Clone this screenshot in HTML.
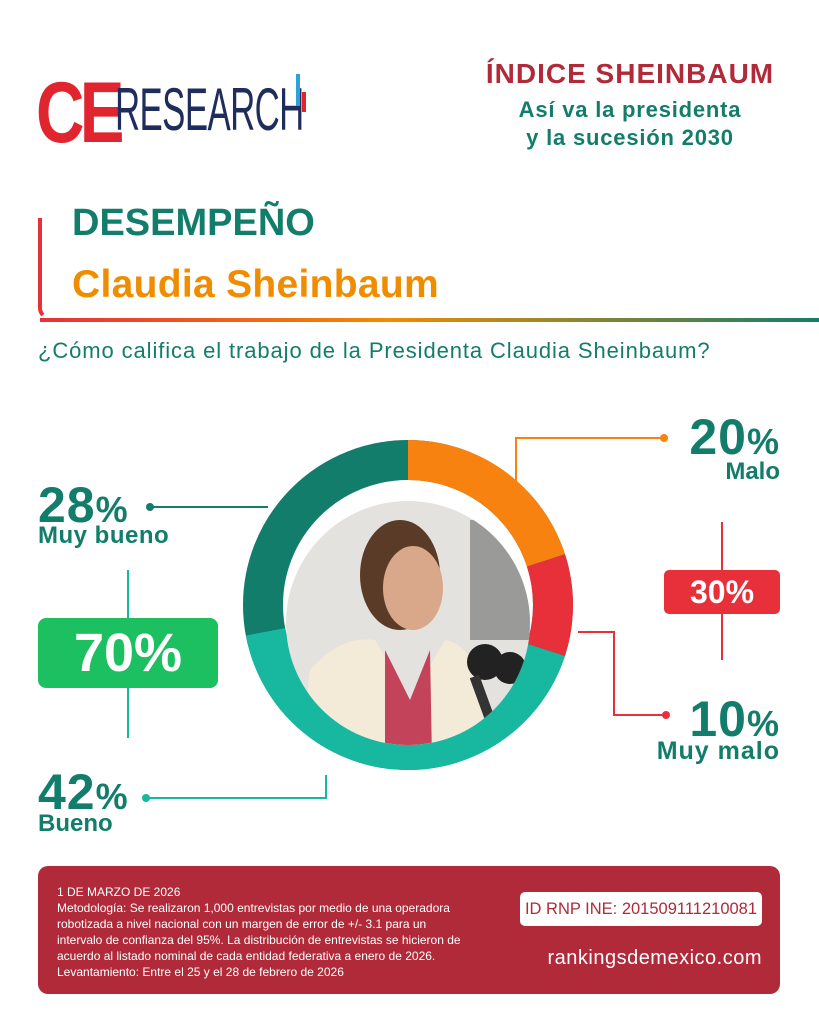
<!DOCTYPE html>
<html><head><meta charset="utf-8"><style>
body{margin:0;width:819px;height:1024px;background:#fff;position:relative;overflow:hidden;font-family:"Liberation Sans",sans-serif}
.a{position:absolute;white-space:nowrap}
</style></head><body>
<div class="a" style="left:36px;top:70px;font-size:86px;font-weight:bold;color:#e0252f;letter-spacing:-6px;transform:scaleX(0.78);transform-origin:left top;line-height:86px">CE</div>
<div class="a" style="left:115px;top:80px;font-size:60px;color:#1f2d5c;transform:scaleX(0.58);transform-origin:left top;line-height:60px;letter-spacing:-1px">RESEARCH</div>
<div class="a" style="left:296px;top:74px;width:4px;height:32px;background:#2aa3dc"></div>
<div class="a" style="left:302px;top:92px;width:4px;height:20px;background:#e0252f"></div>
<div class="a" style="left:470px;top:58px;width:320px;text-align:center;font-size:28px;font-weight:bold;letter-spacing:1px;color:#b02a3a">ÍNDICE SHEINBAUM</div>
<div class="a" style="left:470px;top:96px;width:320px;text-align:center;font-size:22px;font-weight:bold;letter-spacing:0.8px;color:#137d6b;line-height:28px">Así va la presidenta<br>y la sucesión 2030</div>
<div class="a" style="left:38px;top:218px;width:20px;height:102px;border-left:4px solid #e8303a;border-bottom:4px solid transparent;border-bottom-left-radius:12px;box-sizing:border-box"></div>
<div class="a" style="left:40px;top:318px;width:779px;height:4px;background:linear-gradient(90deg,#e8303a,#f08c00 45%,#137d6b)"></div>
<div class="a" style="left:72px;top:202px;font-size:38px;font-weight:bold;color:#137d6b">DESEMPEÑO</div>
<div class="a" style="left:72px;top:263px;font-size:39px;font-weight:bold;letter-spacing:0.3px;color:#f08c00">Claudia Sheinbaum</div>
<div class="a" style="left:38px;top:338px;font-size:22px;letter-spacing:0.9px;color:#137d6b">¿Cómo califica el trabajo de la Presidenta Claudia Sheinbaum?</div>
<svg class="a" style="left:0;top:0" width="819" height="1024">
<g fill="none" stroke-width="40">
<circle cx="408" cy="605" r="145" stroke="#137d6b"/>
<circle cx="408" cy="605" r="145" stroke="#18b8a0" stroke-dasharray="382.7 1000" stroke-dashoffset="-273.3" transform="rotate(-90 408 605)"/>
<circle cx="408" cy="605" r="145" stroke="#e8303a" stroke-dasharray="91.1 1000" stroke-dashoffset="-182.2" transform="rotate(-90 408 605)"/>
<circle cx="408" cy="605" r="145" stroke="#f7820f" stroke-dasharray="182.2 1000" transform="rotate(-90 408 605)"/>
</g>
<clipPath id="c"><circle cx="408" cy="623" r="122"/></clipPath>
<g clip-path="url(#c)">
<rect x="280" y="490" width="260" height="260" fill="#e4e2df"/>
<rect x="470" y="520" width="70" height="120" fill="#9a9a98"/>
<ellipse cx="400" cy="575" rx="40" ry="55" fill="#5a3b28"/>
<ellipse cx="413" cy="588" rx="30" ry="42" fill="#d9a88a"/>
<path d="M300 760 L310 670 Q340 635 375 640 L410 700 L445 640 Q470 645 480 680 L490 760Z" fill="#f3ead8"/>
<path d="M385 650 L410 700 L430 650 L432 760 L385 760Z" fill="#c2435a"/>
<circle cx="485" cy="662" r="18" fill="#222"/><circle cx="510" cy="668" r="16" fill="#222"/>
<rect x="478" y="675" width="10" height="50" fill="#333" transform="rotate(-20 483 700)"/>
</g>
<g stroke-width="2" fill="none">
<path d="M516 482 V438 H662" stroke="#f7820f"/><circle cx="664" cy="438" r="4" fill="#f7820f" stroke="none"/>
<path d="M578 632 H614 V715 H664" stroke="#e8303a"/><circle cx="666" cy="715" r="4" fill="#e8303a" stroke="none"/>
<path d="M268 507 H152" stroke="#137d6b"/><circle cx="150" cy="507" r="4" fill="#137d6b" stroke="none"/>
<path d="M326 775 V798 H148" stroke="#18b8a0"/><circle cx="146" cy="798" r="4" fill="#18b8a0" stroke="none"/>
<path d="M722 522 V570 M722 614 V660" stroke="#e8303a"/>
<path d="M128 570 V618 M128 688 V738" stroke="#18b8a0"/>
</g>
</svg>
<div class="a" style="left:620px;top:408px;width:160px;text-align:right;font-size:50px;font-weight:bold;letter-spacing:1px;color:#137d6b">20<span style="font-size:36px">%</span></div>
<div class="a" style="left:620px;top:458px;width:160px;text-align:right;font-size:24px;font-weight:bold;color:#137d6b">Malo</div>
<div class="a" style="left:664px;top:570px;width:116px;height:44px;background:#e8303a;border-radius:5px;color:#fff;font-size:32px;font-weight:bold;text-align:center;line-height:44px">30%</div>
<div class="a" style="left:620px;top:690px;width:160px;text-align:right;font-size:50px;font-weight:bold;letter-spacing:1px;color:#137d6b">10<span style="font-size:36px">%</span></div>
<div class="a" style="left:600px;top:737px;width:180px;text-align:right;font-size:25px;font-weight:bold;letter-spacing:1px;color:#137d6b">Muy malo</div>
<div class="a" style="left:38px;top:476px;font-size:50px;font-weight:bold;letter-spacing:1px;color:#137d6b">28<span style="font-size:36px">%</span></div>
<div class="a" style="left:38px;top:522px;font-size:24px;font-weight:bold;letter-spacing:0.5px;color:#137d6b">Muy bueno</div>
<div class="a" style="left:38px;top:618px;width:180px;height:70px;background:#1cc060;border-radius:8px;color:#fff;font-size:54px;font-weight:bold;text-align:center;line-height:70px">70%</div>
<div class="a" style="left:38px;top:763px;font-size:50px;font-weight:bold;letter-spacing:1px;color:#137d6b">42<span style="font-size:36px">%</span></div>
<div class="a" style="left:38px;top:810px;font-size:24px;font-weight:bold;color:#137d6b">Bueno</div>
<div class="a" style="left:38px;top:866px;width:742px;height:128px;background:#b02a3a;border-radius:10px"></div>
<div class="a" style="left:57px;top:884px;font-size:12px;line-height:16px;color:#fff">1 DE MARZO DE 2026<br>Metodología: Se realizaron 1,000 entrevistas por medio de una operadora<br>robotizada a nivel nacional con un margen de error de +/- 3.1 para un<br>intervalo de confianza del 95%. La distribución de entrevistas se hicieron de<br>acuerdo al listado nominal de cada entidad federativa a enero de 2026.<br>Levantamiento: Entre el 25 y el 28 de febrero de 2026</div>
<div class="a" style="left:520px;top:892px;width:242px;height:34px;background:#fff;border-radius:5px;color:#b02a3a;font-size:16.5px;text-align:center;line-height:34px">ID RNP INE: 201509111210081</div>
<div class="a" style="left:500px;top:947px;width:262px;text-align:right;color:#fff;font-size:20px;letter-spacing:0.5px">rankingsdemexico.com</div>
</body></html>
